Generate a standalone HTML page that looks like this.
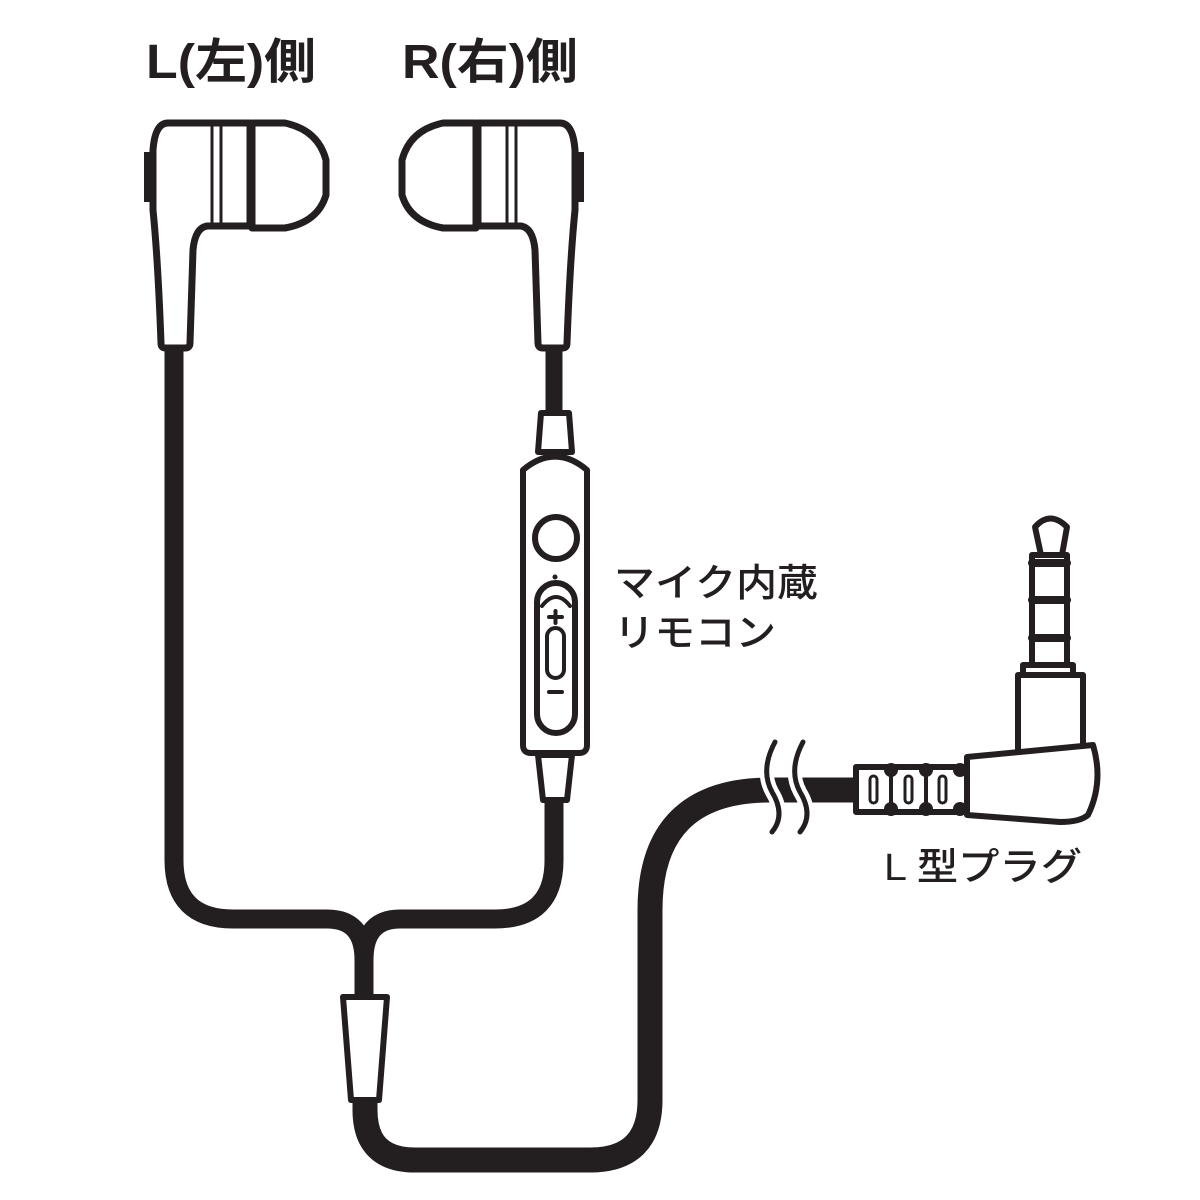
<!DOCTYPE html>
<html><head><meta charset="utf-8"><style>html,body{margin:0;padding:0;background:#fff}svg{display:block}</style></head>
<body>
<svg width="1200" height="1200" viewBox="0 0 1200 1200" xmlns="http://www.w3.org/2000/svg">
<g font-family="'Liberation Sans','Noto Sans CJK JP',sans-serif" fill="#231f20">
<text x="146" y="78" font-size="48" font-weight="bold" textLength="170" lengthAdjust="spacingAndGlyphs">L(左)側</text>
<text x="402" y="78" font-size="48" font-weight="bold" textLength="176" lengthAdjust="spacingAndGlyphs">R(右)側</text>
<text x="614" y="596" font-size="38" font-weight="500" textLength="204" lengthAdjust="spacingAndGlyphs">マイク内蔵</text>
<text x="614" y="646" font-size="38" font-weight="500" textLength="162" lengthAdjust="spacingAndGlyphs">リモコン</text>
<text x="884" y="880" font-size="38" font-weight="500" textLength="198" lengthAdjust="spacingAndGlyphs">L 型プラグ</text>
</g>
<g stroke="#231f20" fill="none" stroke-linejoin="round" stroke-linecap="round">
<path d="M174,340 V860 Q174,919 233,919 H327 Q364,919 364,960 V1000" stroke-width="19" stroke-linecap="butt"/>
<path d="M554,790 V860 Q554,919 495,919 H400 Q364,919 364,960" stroke-width="19" stroke-linecap="butt"/>
<path d="M554,345 V415" stroke-width="17" stroke-linecap="butt"/>
<path d="M365,1095 V1110 Q365,1160 415,1160 H590 Q650,1160 650,1100 V910 Q650,790 770,790 H860" stroke-width="25" stroke-linecap="butt"/>
<path d="M775,742 Q760,770 772,792 Q786,815 772,832" stroke="#fff" stroke-width="14"/>
<path d="M803,742 Q788,770 800,792 Q814,815 800,832" stroke="#fff" stroke-width="14"/>
<path d="M775,742 Q760,770 772,792 Q786,815 772,832" stroke-width="5"/>
<path d="M803,742 Q788,770 800,792 Q814,815 800,832" stroke-width="5"/>
<path d="M343,997 H387 L379,1100 H351 Z" fill="#fff" stroke-width="6"/>
<g stroke-width="7" fill="#fff">
<rect x="144" y="152" width="9" height="50" fill="#231f20" stroke="none"/>
<path d="M168,123 H250 V226 H207 Q195,228 193,250 L190,343 Q190,348 185,348 H165 Q161,348 161,343 Q158,260 153,210 L153,150 Q155,123 168,123 Z"/>
<path d="M212,123 V226 M221,123 V226" stroke-width="3"/>
<path d="M252,123 H285 Q318,130 326,160 V195 Q318,222 285,228 H252 Z"/>
</g>
<g transform="translate(728,0) scale(-1,1)" stroke-width="7" fill="#fff">
<rect x="144" y="152" width="9" height="50" fill="#231f20" stroke="none"/>
<path d="M168,123 H250 V226 H207 Q195,228 193,250 L190,343 Q190,348 185,348 H165 Q161,348 161,343 Q158,260 153,210 L153,150 Q155,123 168,123 Z"/>
<path d="M212,123 V226 M221,123 V226" stroke-width="3"/>
<path d="M252,123 H285 Q318,130 326,160 V195 Q318,222 285,228 H252 Z"/>
</g>
<g stroke-width="6" fill="#fff">
<path d="M541,413 H569 L572,452 H538 Z"/>
<path d="M538,755 H572 L567,800 H543 Z"/>
<path d="M523,470 Q555,443 587,470 V745 Q587,753 579,753 H531 Q523,753 523,745 Z"/>
<circle cx="556" cy="538" r="21"/>
<rect x="537" y="583" width="38" height="150" rx="19"/>
<path d="M542,606 Q556,588 570,606" fill="none" stroke-width="4"/>
<rect x="547" y="628" width="17" height="50" rx="8.5" stroke-width="4"/>
<path d="M549,617 H562 M555.5,611 V623 M549,692 H562" stroke-width="4"/>
</g>
<circle cx="555" cy="577" r="2.5" fill="#231f20" stroke="none"/>
<g stroke-width="6" fill="#fff">
<path d="M1035,527 Q1050,510 1067,527 L1062,555 H1041 Z"/>
<rect x="1032" y="555" width="35" height="110"/>
<path d="M1032,563 H1067 M1032,600 H1067 M1032,638 H1067" stroke-width="8"/>
<rect x="1023" y="665" width="50" height="10"/>
<rect x="1018" y="675" width="65" height="80"/>
<path d="M967,757 L1093,745 Q1104,782 1088,815 Q1080,822 1060,822 L967,815 Z"/>
<rect x="856" y="767" width="111" height="45"/>
<path d="M891,767 V812 M926,767 V812" stroke-width="4"/>
</g>
<g fill="#231f20" stroke="none">
<circle cx="891" cy="770" r="7"/><circle cx="891" cy="809" r="7"/>
<circle cx="926" cy="770" r="7"/><circle cx="926" cy="809" r="7"/>
<circle cx="960" cy="770" r="7"/><circle cx="960" cy="809" r="7"/>
</g>
<g stroke-width="3" fill="#fff">
<rect x="870" y="776" width="7" height="27" rx="3.5"/>
<rect x="905" y="776" width="7" height="27" rx="3.5"/>
<rect x="939" y="776" width="7" height="27" rx="3.5"/>
</g>
</g>
</svg>
</body></html>
